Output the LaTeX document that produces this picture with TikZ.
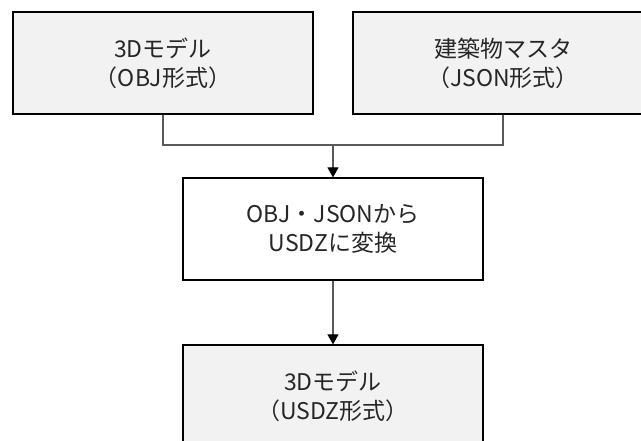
\documentclass[tikz,border=0pt]{standalone}
\usepackage{fontspec}
\setmainfont{Noto Sans CJK JP}
\usetikzlibrary{arrows.meta}
\definecolor{boxgray}{HTML}{F2F2F2}
\definecolor{linkgray}{HTML}{595959}
\begin{document}
\begin{tikzpicture}[x=1pt,y=-1pt,
  databox/.style={draw=black, line width=1.2pt, fill=boxgray,
    minimum width=300pt, minimum height=102pt, align=center,
    inner sep=0pt, font=\fontsize{23}{29}\selectfont, text=black!85},
  procbox/.style={databox, fill=white},
  link/.style={draw=linkgray, line width=1.1pt},
  flow/.style={link, -{Triangle[length=10pt,width=11pt,fill=black,color=black]}}]
  \clip (0,0) rectangle (641,441);
  \fill[white] (0,0) rectangle (641,441);

  % source data
  \node[databox] (obj)  at (163,63)  {3Dモデル\\（OBJ形式）};
  \node[databox] (json) at (503,63)  {建築物マスタ\\（JSON形式）};

  % conversion step
  \node[procbox] (conv) at (333,229) {OBJ・JSONから\\USDZに変換};

  % result
  \node[databox] (usdz) at (333,396) {3Dモデル\\（USDZ形式）};

  % merging connectors
  \coordinate (join) at (333,145);
  \draw[link] (obj.south) |- (join) -| (json.south);
  \draw[flow] (join) -- (conv.north);
  \draw[flow] (conv.south) -- (usdz.north);
\end{tikzpicture}
\end{document}
